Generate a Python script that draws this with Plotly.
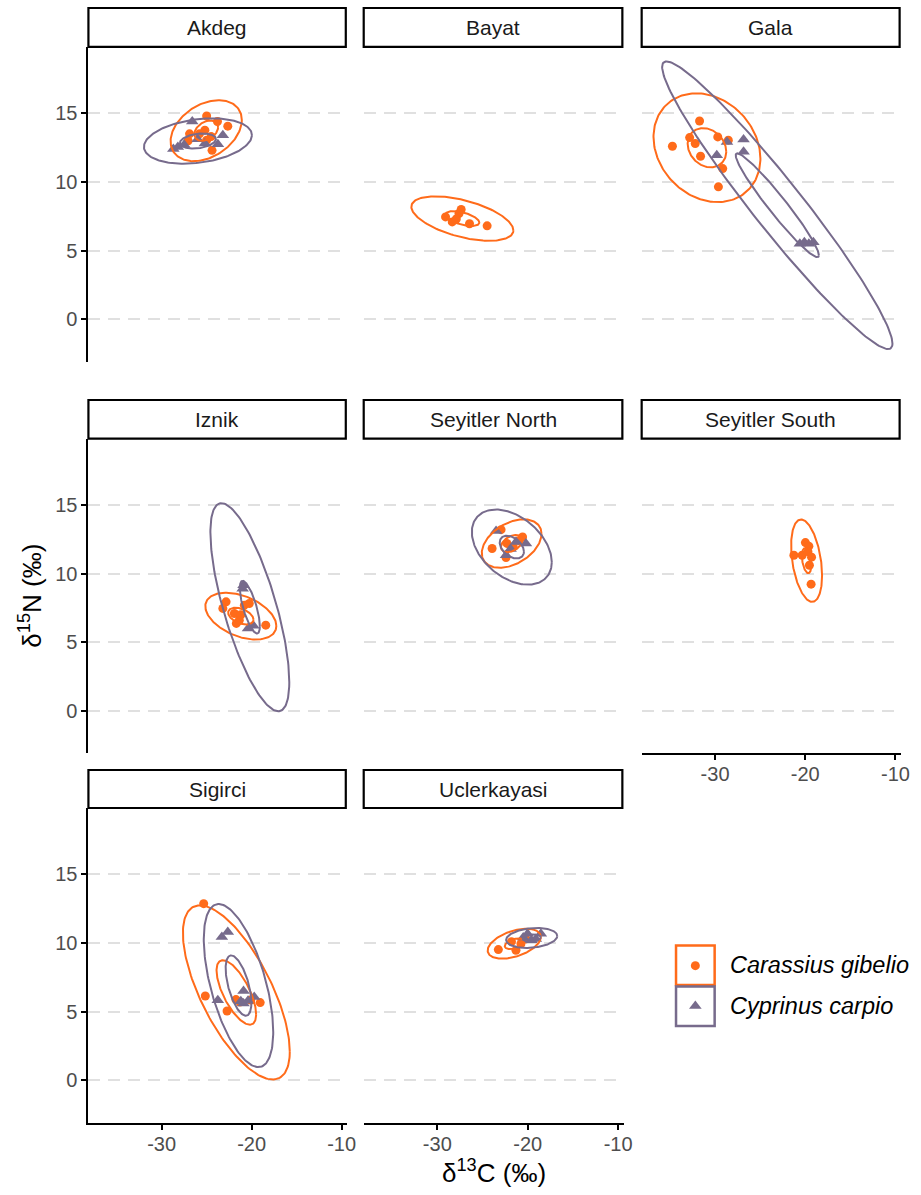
import numpy as np
import plotly.graph_objects as go

# ---------------- data ----------------
panels = ["Akdeg", "Bayat", "Gala", "Iznik", "Seyitler North",
          "Seyitler South", "Sigirci", "Uclerkayasi"]
species = ["Carassius gibelio", "Cyprinus carpio"]

# Carassius gibelio points
cg_site = (["Akdeg"] * 10 + ["Bayat"] * 7 + ["Gala"] * 9 + ["Iznik"] * 9 +
           ["Seyitler North"] * 7 + ["Seyitler South"] * 8 + ["Sigirci"] * 7 +
           ["Uclerkayasi"] * 5)
cg_d13C = [-25.0, -23.8, -22.65, -24.4, -27.06, -26.9, -25.8, -25.2, -25.0, -24.5,
           -27.36, -27.6, -29.09, -28.35, -26.44, -24.49, -27.9,
           -31.72, -34.73, -32.82, -32.2, -31.61, -29.7, -28.53, -29.15, -29.63,
           -22.84, -23.2, -21.92, -21.37, -20.81, -20.26, -18.43, -21.7, -21.2,
           -22.95, -23.94, -20.57, -22.3, -21.6, -22.4, -21.0,
           -19.98, -19.6, -20.34, -21.26, -19.54, -19.35, -19.7, -19.3,
           -25.33, -25.15, -22.73, -21.74, -19.05, -20.1, -21.3,
           -23.25, -21.3, -20.75, -21.8, -20.2]
cg_d15N = [14.8, 14.4, 14.06, 12.3, 13.0, 13.5, 13.5, 13.77, 13.04, 13.3,
           7.99, 7.7, 7.45, 7.09, 6.95, 6.8, 7.3,
           14.44, 12.6, 13.23, 12.8, 11.87, 13.28, 13.04, 10.97, 9.64,
           7.94, 7.46, 7.09, 6.6, 7.7, 7.82, 6.24, 6.37, 7.0,
           13.2, 11.83, 12.67, 12.2, 11.95, 11.17, 12.4,
           12.26, 12.0, 11.34, 11.34, 10.61, 9.23, 11.6, 11.2,
           12.87, 6.14, 5.05, 5.88, 5.66, 5.85, 5.7,
           9.52, 9.47, 9.95, 10.1, 10.3]

# Cyprinus carpio points
cc_site = (["Akdeg"] * 8 + ["Gala"] * 8 + ["Iznik"] * 4 + ["Seyitler North"] * 5 +
           ["Sigirci"] * 8 + ["Uclerkayasi"] * 5)
cc_d13C = [-26.6, -23.2, -23.75, -28.7, -28.2, -27.5, -25.2, -26.0,
           -28.68, -26.84, -26.84, -29.81, -20.6, -20.1, -19.6, -19.1,
           -20.9, -21.0, -20.4, -19.8,
           -23.5, -20.2, -22.4, -21.9, -21.3,
           -23.31, -22.65, -23.76, -20.9, -20.9, -19.71, -20.4, -21.2,
           -20.5, -20.02, -19.1, -18.55, -19.6]
cc_d15N = [14.4, 13.4, 12.75, 12.4, 12.55, 12.7, 12.8, 13.1,
           12.9, 13.09, 12.19, 11.95, 5.5, 5.6, 5.5, 5.6,
           9.15, 8.9, 6.0, 6.2,
           13.1, 12.19, 11.34, 11.8, 12.3,
           10.44, 10.8, 5.83, 6.51, 5.59, 6.07, 5.8, 5.75,
           10.4, 10.68, 10.3, 10.68, 10.2]

# ellipse summaries (inner = standard ellipse; outer = inner scaled)
ell_site = ["Akdeg", "Akdeg", "Bayat", "Gala", "Gala", "Iznik", "Iznik",
            "Seyitler North", "Seyitler North", "Seyitler South",
            "Sigirci", "Sigirci", "Uclerkayasi", "Uclerkayasi"]
ell_species = ["Carassius gibelio", "Cyprinus carpio", "Carassius gibelio",
               "Carassius gibelio", "Cyprinus carpio", "Carassius gibelio", "Cyprinus carpio",
               "Carassius gibelio", "Cyprinus carpio", "Carassius gibelio",
               "Carassius gibelio", "Cyprinus carpio", "Carassius gibelio", "Cyprinus carpio"]
ell_mean_d13C = [-25.05, -25.97, -27.23, -30.9, -23.1, -21.2, -20.2,
                 -21.78, -21.76, -19.85, -21.7, -21.46, -21.49, -19.56]
ell_mean_d15N = [13.73, 12.98, 7.33, 12.49, 8.3, 6.9, 7.55,
                 12.19, 11.93, 10.94, 6.4, 6.9, 9.95, 10.37]
ell_sd_d13C = [1.32, 2.0, 1.88, 2.14, 4.61, 1.41, 1.11,
               1.18, 1.34, 0.52, 2.2, 1.43, 1.05, 1.01]
ell_sd_d15N = [0.74, 0.55, 0.54, 1.43, 3.78, 0.61, 1.92,
               0.63, 0.83, 0.91, 2.35, 2.2, 0.39, 0.26]
ell_rho = [0.35, 0.26, -0.53, -0.2, -0.962, -0.42, -0.72,
           0.4, -0.4, -0.36, -0.68, -0.57, 0.45, 0.2]
ell_outer_scale = [3.0, 3.0, 3.0, 2.77, 2.77, 2.8, 3.95,
                   2.8, 3.3, 3.3, 2.7, 2.7, 2.8, 2.8]

x_ticks = [-30, -20, -10]
x_ticklabels = ["-30", "-20", "-10"]
y_ticks = [0, 5, 10, 15]
y_ticklabels = ["0", "5", "10", "15"]

# ---------------- style / layout ----------------
W, H = 921, 1195
ORANGE = "#FF6B1A"
PURPLE = "#776B8C"
colors = {"Carassius gibelio": ORANGE, "Cyprinus carpio": PURPLE}
symbols = {"Carassius gibelio": "circle", "Cyprinus carpio": "triangle-up"}
msize = {"Carassius gibelio": 9, "Cyprinus carpio": 11}
FONT = "Liberation Sans, Arial, sans-serif"

col_px = [(89.3, 350.7), (367.3, 630.0), (648.0, 910.0)]
row_px = [(46.8, 361.8), (438.6, 753.3), (808.0, 1122.8)]
strip_px = [(8.0, 46.8), (400.0, 438.6), (770.0, 808.0)]
xr = [-38.14, -9.37]
yr = [-3.1, 19.84]
bottom_panels = {"Sigirci", "Uclerkayasi", "Seyitler South"}


def fx(px):
    return px / W


def fy(px):
    return 1 - px / H


fig = go.Figure()
layout = dict(width=W, height=H, margin=dict(l=0, r=0, t=0, b=0),
              plot_bgcolor="white", paper_bgcolor="white", showlegend=False,
              font=dict(family=FONT))
shapes, annotations = [], []

t = np.linspace(0, 2 * np.pi, 181)

for i, site in enumerate(panels):
    r, c = divmod(i, 3)
    k = i + 1
    xa, ya = ("x" if k == 1 else f"x{k}"), ("y" if k == 1 else f"y{k}")
    is_bottom = site in bottom_panels
    is_left = c == 0
    layout[f"xaxis{'' if k == 1 else k}"] = dict(
        domain=[fx(col_px[c][0]), fx(col_px[c][1])], anchor=ya, range=xr,
        showgrid=False, zeroline=False,
        showline=is_bottom, linecolor="black", linewidth=2,
        ticks="outside" if is_bottom else "", ticklen=5, tickwidth=1.5, tickcolor="black",
        tickvals=x_ticks, ticktext=x_ticklabels, showticklabels=is_bottom,
        ticklabelstandoff=-3,
        tickfont=dict(size=20, color="#4D4D4D", family=FONT))
    layout[f"yaxis{'' if k == 1 else k}"] = dict(
        domain=[fy(row_px[r][1]), fy(row_px[r][0])], anchor=xa, range=yr,
        showgrid=True, gridcolor="#E0E0E0", gridwidth=1.5, griddash="12px,8px",
        zeroline=False,
        showline=is_left, linecolor="black", linewidth=2,
        ticks="outside" if is_left else "", ticklen=5, tickwidth=1.5, tickcolor="black",
        tickvals=y_ticks, ticktext=y_ticklabels, showticklabels=is_left,
        tickfont=dict(size=20, color="#4D4D4D", family=FONT))

    # points
    for sp, sites, xs, ys in (("Carassius gibelio", cg_site, cg_d13C, cg_d15N),
                              ("Cyprinus carpio", cc_site, cc_d13C, cc_d15N)):
        px_ = [x for s, x in zip(sites, xs) if s == site]
        py_ = [y for s, y in zip(sites, ys) if s == site]
        if px_:
            fig.add_trace(go.Scatter(x=px_, y=py_, mode="markers", xaxis=xa, yaxis=ya,
                                     marker=dict(color=colors[sp], symbol=symbols[sp],
                                                 size=msize[sp], line=dict(width=0)),
                                     hoverinfo="skip"))
    # ellipses
    for j, s in enumerate(ell_site):
        if s != site:
            continue
        sp = ell_species[j]
        for scale in (1.0, ell_outer_scale[j]):
            rho = ell_rho[j]
            ex = ell_mean_d13C[j] + scale * ell_sd_d13C[j] * np.cos(t)
            ey = ell_mean_d15N[j] + scale * ell_sd_d15N[j] * (
                rho * np.cos(t) + np.sqrt(1 - rho ** 2) * np.sin(t))
            fig.add_trace(go.Scatter(x=ex, y=ey, mode="lines", xaxis=xa, yaxis=ya,
                                     line=dict(color=colors[sp], width=2),
                                     hoverinfo="skip"))

    # strip
    sx0, sx1 = col_px[c][0], col_px[c][1] - 1.5
    sy0, sy1 = strip_px[r]
    shapes.append(dict(type="rect", xref="paper", yref="paper",
                       x0=fx(sx0), x1=fx(sx1), y0=fy(sy1), y1=fy(sy0),
                       line=dict(color="black", width=2.2), fillcolor="white"))
    annotations.append(dict(text=site, xref="paper", yref="paper",
                            x=fx((sx0 + sx1) / 2), y=fy((sy0 + sy1) / 2),
                            showarrow=False, xanchor="center", yanchor="middle",
                            font=dict(size=21, color="#1A1A1A", family=FONT)))

# axis titles
annotations.append(dict(text="δ<sup>13</sup>C (‰)", xref="paper", yref="paper",
                        x=fx(499), y=fy(1171), showarrow=False,
                        xanchor="center", yanchor="middle",
                        font=dict(size=26, color="black", family=FONT)))
annotations.append(dict(text="δ<sup>15</sup>N (‰)", xref="paper", yref="paper",
                        x=fx(31), y=fy(596), showarrow=False, textangle=-90,
                        xanchor="center", yanchor="middle",
                        font=dict(size=26, color="black", family=FONT)))

# legend (custom, ggplot style key boxes)
key_x0, key_x1 = 682.7, 721.7
key_rows = [(945.5, 985.0), (986.5, 1026.0)]
for (ky0, ky1), sp in zip(key_rows, species):
    shapes.append(dict(type="rect", xref="paper", yref="paper",
                       x0=fx(key_x0), x1=fx(key_x1), y0=fy(ky1), y1=fy(ky0),
                       line=dict(color=colors[sp], width=2.5),
                       fillcolor="rgba(0,0,0,0)"))
    annotations.append(dict(text=f"<i>{sp}</i>", xref="paper", yref="paper",
                            x=fx(735), y=fy((ky0 + ky1) / 2), showarrow=False,
                            xanchor="left", yanchor="middle",
                            font=dict(size=23.5, color="black", family=FONT)))

layout["xaxis9"] = dict(domain=[fx(key_x0), fx(key_x1)], anchor="y9", range=[0, 1],
                        visible=False, fixedrange=True)
layout["yaxis9"] = dict(domain=[fy(key_rows[1][1]), fy(key_rows[0][0])], anchor="x9",
                        range=[0, 2], visible=False, fixedrange=True)
for idx, sp in enumerate(species):
    fig.add_trace(go.Scatter(x=[0.5], y=[1.5 - idx], mode="markers", xaxis="x9", yaxis="y9",
                             marker=dict(color=colors[sp], symbol=symbols[sp],
                                         size=msize[sp], line=dict(width=0)),
                             hoverinfo="skip"))

layout["shapes"] = shapes
layout["annotations"] = annotations
fig.update_layout(**layout)

fig.write_html("out.html", config={"displayModeBar": False},
               post_script="document.body.style.margin='0px';")
